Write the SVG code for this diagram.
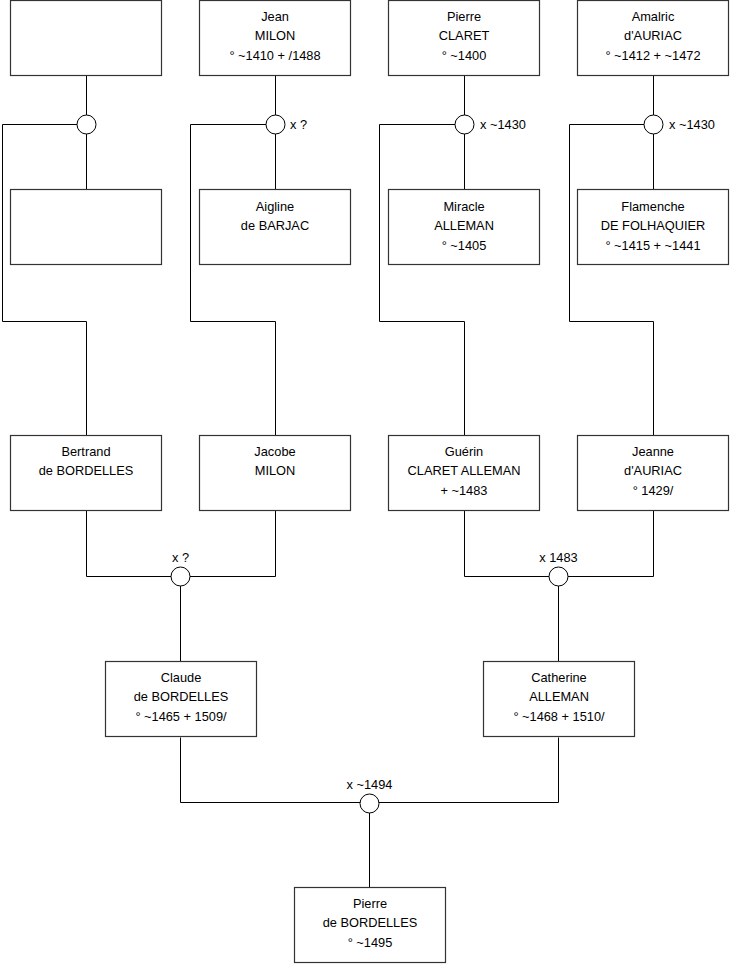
<svg xmlns="http://www.w3.org/2000/svg" width="740" height="975" viewBox="0 0 740 975">
<style>
.box{fill:#fff;stroke:#333;stroke-width:1.2}
.ln{fill:none;stroke:#000;stroke-width:1}
.ring{fill:#fff;stroke:#000;stroke-width:1}
text{font-family:"Liberation Sans",Arial,sans-serif;font-size:12.8px;fill:#000}
.c{text-anchor:middle}
</style>
<rect width="740" height="975" fill="#fff"/>
<g id="connectors">
<path class="ln" d="M86.5 75.5V189.5M86.5 124.5H2.5V321.5H86.5V435.5"/>
<path class="ln" d="M275.5 75.5V189.5M275.5 124.5H190.5V321.5H275.5V435.5"/>
<path class="ln" d="M464.5 75.5V189.5M464.5 124.5H379.5V321.5H464.5V435.5"/>
<path class="ln" d="M653.5 75.5V189.5M653.5 124.5H569.5V321.5H653.5V435.5"/>
<path class="ln" d="M86.5 510.5V576.5H275.5V510.5M180.5 576.5V661.5"/>
<path class="ln" d="M464.5 510.5V576.5H653.5V510.5M558.5 576.5V661.5"/>
<path class="ln" d="M180.5 737.5V802.5H558.5V737.5M369.5 802.5V887.5"/>
<circle class="ring" cx="86.5" cy="124.5" r="9.5"/>
<circle class="ring" cx="275.5" cy="124.5" r="9.5"/>
<circle class="ring" cx="464.5" cy="124.5" r="9.5"/>
<circle class="ring" cx="653.5" cy="124.5" r="9.5"/>
<circle class="ring" cx="180.5" cy="576.5" r="9.5"/>
<circle class="ring" cx="558.5" cy="576.5" r="9.5"/>
<circle class="ring" cx="369.5" cy="803.5" r="9.5"/>
<text x="290" y="128.5">x ?</text>
<text x="480" y="128.5">x ~1430</text>
<text x="669" y="128.5">x ~1430</text>
<text class="c" x="180.5" y="562">x ?</text>
<text class="c" x="558.5" y="562">x 1483</text>
<text class="c" x="369.5" y="789">x ~1494</text>
</g>
<g id="n1"><rect class="box" x="10.5" y="0.5" width="151" height="75"/></g>
<g id="n2"><rect class="box" x="199.5" y="0.5" width="151" height="75"/>
<text class="c" x="275" y="20.5">Jean</text><text class="c" x="275" y="40">MILON</text><text class="c" x="275" y="59.5">° ~1410 + /1488</text></g>
<g id="n3"><rect class="box" x="388.5" y="0.5" width="151" height="75"/>
<text class="c" x="464" y="20.5">Pierre</text><text class="c" x="464" y="40">CLARET</text><text class="c" x="464" y="59.5">° ~1400</text></g>
<g id="n4"><rect class="box" x="577.5" y="0.5" width="151" height="75"/>
<text class="c" x="653" y="20.5">Amalric</text><text class="c" x="653" y="40">d'AURIAC</text><text class="c" x="653" y="59.5">° ~1412 + ~1472</text></g>
<g id="n5"><rect class="box" x="10.5" y="189.5" width="151" height="75"/></g>
<g id="n6"><rect class="box" x="199.5" y="189.5" width="151" height="75"/>
<text class="c" x="275" y="210.5">Aigline</text><text class="c" x="275" y="230">de BARJAC</text></g>
<g id="n7"><rect class="box" x="388.5" y="189.5" width="151" height="75"/>
<text class="c" x="464" y="210.5">Miracle</text><text class="c" x="464" y="230">ALLEMAN</text><text class="c" x="464" y="249.5">° ~1405</text></g>
<g id="n8"><rect class="box" x="577.5" y="189.5" width="151" height="75"/>
<text class="c" x="653" y="210.5">Flamenche</text><text class="c" x="653" y="230">DE FOLHAQUIER</text><text class="c" x="653" y="249.5">° ~1415 + ~1441</text></g>
<g id="n9"><rect class="box" x="10.5" y="435.5" width="151" height="75"/>
<text class="c" x="86" y="455.5">Bertrand</text><text class="c" x="86" y="475">de BORDELLES</text></g>
<g id="n10"><rect class="box" x="199.5" y="435.5" width="151" height="75"/>
<text class="c" x="275" y="455.5">Jacobe</text><text class="c" x="275" y="475">MILON</text></g>
<g id="n11"><rect class="box" x="388.5" y="435.5" width="151" height="75"/>
<text class="c" x="464" y="455.5">Guérin</text><text class="c" x="464" y="475">CLARET ALLEMAN</text><text class="c" x="464" y="494.5">+ ~1483</text></g>
<g id="n12"><rect class="box" x="577.5" y="435.5" width="151" height="75"/>
<text class="c" x="653" y="455.5">Jeanne</text><text class="c" x="653" y="475">d'AURIAC</text><text class="c" x="653" y="494.5">° 1429/</text></g>
<g id="n13"><rect class="box" x="105.5" y="661.5" width="151" height="75"/>
<text class="c" x="181" y="681.5">Claude</text><text class="c" x="181" y="701">de BORDELLES</text><text class="c" x="181" y="720.5">° ~1465 + 1509/</text></g>
<g id="n14"><rect class="box" x="483.5" y="661.5" width="151" height="75"/>
<text class="c" x="559" y="681.5">Catherine</text><text class="c" x="559" y="701">ALLEMAN</text><text class="c" x="559" y="720.5">° ~1468 + 1510/</text></g>
<g id="n15"><rect class="box" x="294.5" y="887.5" width="151" height="75"/>
<text class="c" x="370" y="907.5">Pierre</text><text class="c" x="370" y="927">de BORDELLES</text><text class="c" x="370" y="946.5">° ~1495</text></g>
</svg>
